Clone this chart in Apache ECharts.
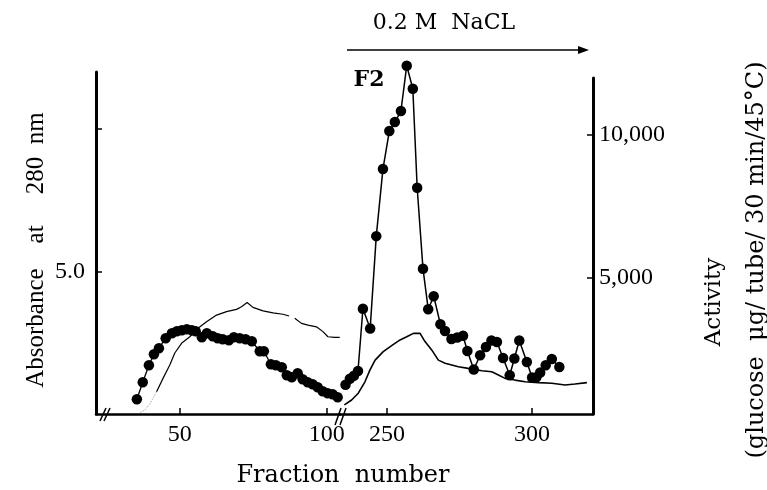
<!DOCTYPE html>
<html>
<head>
<meta charset="utf-8">
<script src="https://cdn.jsdelivr.net/npm/echarts@6/dist/echarts.min.js"></script>
<style>
html,body{margin:0;padding:0;background:#fff;}
#chart{width:767px;height:490px;}
</style>
</head>
<body>
<div id="chart"></div>
<script>
// ---- Data ----
// Left part of the broken x-axis (fractions 21.5 - 104.5)
const actLeftFractions = [35.4,37.4,39.5,41.2,42.9,45.2,47.3,49.0,50.7,52.4,54.1,55.4,57.5,59.2,61.2,62.9,64.6,66.7,68.4,70.4,72.4,74.5,77.2,78.6,81.0,82.7,84.7,86.4,88.1,90.1,91.8,93.5,95.2,96.9,98.6,100.3,102.0,103.7];
const actLeftValues    = [765,1360,1955,2340,2550,2900,3075,3145,3180,3215,3180,3145,2935,3075,2970,2900,2865,2830,2935,2900,2865,2795,2445,2445,1990,1955,1885,1605,1535,1675,1465,1360,1290,1185,1045,975,940,835];

const absLeadFractions = [36.4,38.1,39.8,42.1];
const absLeadValues    = [0.04,0.14,0.35,0.78];

const absLeftFractions = [42.1,44.3,46.6,48.3,50.6,53.4,56.2,59.1,62.5,65.9,69.3,71.0,72.9,74.9,78.3,81.7,85.1,87.2,88.2,89.1,91.4,93.6,96.5,98.7,100.4,102.7,104.4];
const absLeftValues    = [0.78,1.25,1.72,2.14,2.48,2.71,3.01,3.24,3.47,3.59,3.67,3.76,3.91,3.74,3.62,3.55,3.50,3.44,null,3.36,3.18,3.12,3.06,2.89,2.71,2.69,2.69];

// Right part of the broken x-axis (fractions 233.8 - 321)
const actRightFractions = [235.7,237.2,238.6,240.0,241.7,244.2,246.3,248.6,250.8,252.7,254.8,256.8,258.9,260.4,262.4,264.2,266.1,268.4,270.0,272.2,274.2,276.2,277.7,279.9,282.1,284.1,286.0,287.9,290.0,292.3,293.9,295.6,298.2,300.0,301.5,302.8,304.7,306.8,309.4];
const actRightValues    = [1272,1482,1587,1755,3932,3240,6470,8815,10145,10460,10845,12430,11625,8160,5332,3915,4370,3390,3152,2872,2925,2987,2452,1805,2305,2595,2820,2770,2207,1605,2190,2820,2070,1525,1535,1703,1955,2172,1895];

const absRightFractions = [235.3,237.8,240.1,242.4,244.1,245.9,248.7,251.6,254.5,256.8,259.1,261.4,263.1,265.4,267.7,270.0,274.6,278.0,282.7,286.1,288.4,290.7,294.1,297.6,302.2,306.8,311.4,314.8,318.9];
const absRightValues    = [0.32,0.49,0.73,1.13,1.54,1.89,2.19,2.40,2.60,2.71,2.83,2.83,2.54,2.25,1.89,1.78,1.66,1.60,1.52,1.48,1.37,1.25,1.19,1.13,1.10,1.08,1.02,1.05,1.10];

// Tick values / labels
const xTicksLeft  = [50,100];
const xTicksRight = [250,300];
const absTicks    = [5,10];
const absLabels   = [5];
const actTicks    = [5000,10000];

// Texts
const absTitle  = 'Absorbance    at     280  nm';
const actTitle1 = 'Activity';
const actTitle2 = '(glucose  μg/ tube/ 30 min/45°C)';
const xTitle    = 'Fraction  number';
const saltLabel = '0.2 M  NaCL';
const peakLabel = 'F2';

// ---- Build ----
const zip = (a, b) => a.map((v, i) => [v, b[i]]);
const SERIF = '"Liberation Serif", "DejaVu Serif", serif';
const SERIF2 = '"DejaVu Serif", "Liberation Serif", serif';
const black = '#000';

const chart = echarts.init(document.getElementById('chart'), null, {renderer: 'canvas'});

const labelStyle = {color: black, fontFamily: SERIF, fontSize: 24};

chart.setOption({
  animation: false,
  backgroundColor: '#fff',
  grid: [
    {left: 96, top: 72, width: 244, height: 342},
    {left: 340, top: 78, width: 253, height: 336}
  ],
  xAxis: [
    {
      type: 'value', gridIndex: 0, min: 21.5, max: 104.5,
      axisLine: {show: true, lineStyle: {color: black, width: 2.5}},
      axisTick: {show: true, inside: true, length: 6, customValues: xTicksLeft, lineStyle: {color: black, width: 1.5}},
      axisLabel: Object.assign({customValues: xTicksLeft, margin: 9}, labelStyle),
      splitLine: {show: false}
    },
    {
      type: 'value', gridIndex: 1, min: 233.8, max: 321,
      axisLine: {show: true, lineStyle: {color: black, width: 2.5}},
      axisTick: {show: true, inside: true, length: 6, customValues: xTicksRight, lineStyle: {color: black, width: 1.5}},
      axisLabel: Object.assign({customValues: xTicksRight, margin: 9}, labelStyle),
      splitLine: {show: false}
    }
  ],
  yAxis: [
    {
      type: 'value', gridIndex: 0, position: 'left', min: 0, max: 12,
      axisLine: {show: true, lineStyle: {color: black, width: 3}},
      axisTick: {show: true, inside: true, length: 6, customValues: absTicks, lineStyle: {color: black, width: 1.5}},
      axisLabel: Object.assign({customValues: absLabels, margin: 11, formatter: v => Number(v).toFixed(1)}, labelStyle),
      splitLine: {show: false}
    },
    {
      type: 'value', gridIndex: 0, show: false, min: 250, max: 12210,
      splitLine: {show: false}
    },
    {
      type: 'value', gridIndex: 1, show: false, min: 0, max: 11.79,
      splitLine: {show: false}
    },
    {
      type: 'value', gridIndex: 1, position: 'right', min: 250, max: 12000,
      axisLine: {show: true, lineStyle: {color: black, width: 3}},
      axisTick: {show: true, inside: true, length: 6, customValues: actTicks, lineStyle: {color: black, width: 1.5}},
      axisLabel: Object.assign({customValues: actTicks, margin: 6, formatter: v => Number(v).toLocaleString('en-US')}, labelStyle),
      splitLine: {show: false}
    }
  ],
  series: [
    {
      name: 'Activity (left)', type: 'line', xAxisIndex: 0, yAxisIndex: 1,
      data: zip(actLeftFractions, actLeftValues), clip: false,
      symbol: 'circle', symbolSize: 10.5, showAllSymbol: true,
      itemStyle: {color: black}, lineStyle: {color: black, width: 1.3}
    },
    {
      name: 'Absorbance lead', type: 'line', xAxisIndex: 0, yAxisIndex: 0,
      data: zip(absLeadFractions, absLeadValues), symbol: 'none',
      lineStyle: {color: '#999', width: 1, type: 'dotted'}
    },
    {
      name: 'Absorbance (left)', type: 'line', xAxisIndex: 0, yAxisIndex: 0,
      data: zip(absLeftFractions, absLeftValues), symbol: 'none', connectNulls: false,
      lineStyle: {color: black, width: 1.2}
    },
    {
      name: 'Activity (right)', type: 'line', xAxisIndex: 1, yAxisIndex: 3,
      data: zip(actRightFractions, actRightValues), clip: false,
      symbol: 'circle', symbolSize: 10.5, showAllSymbol: true,
      itemStyle: {color: black}, lineStyle: {color: black, width: 1.5}
    },
    {
      name: 'Absorbance (right)', type: 'line', xAxisIndex: 1, yAxisIndex: 2,
      data: zip(absRightFractions, absRightValues), symbol: 'none',
      lineStyle: {color: black, width: 1.6}
    }
  ],
  graphic: [
    {type: 'text', x: 36, y: 250, rotation: Math.PI / 2,
     style: {text: absTitle, fill: black, font: '25px ' + SERIF, align: 'center', verticalAlign: 'middle'}},
    {type: 'text', x: 714, y: 302, rotation: Math.PI / 2,
     style: {text: actTitle1, fill: black, font: '23px ' + SERIF2, align: 'center', verticalAlign: 'middle'}},
    {type: 'text', x: 757, y: 260, rotation: Math.PI / 2,
     style: {text: actTitle2, fill: black, font: '24px ' + SERIF2, align: 'center', verticalAlign: 'middle'}},
    {type: 'text', x: 343, y: 476,
     style: {text: xTitle, fill: black, font: '24px ' + SERIF2, align: 'center', verticalAlign: 'middle'}},
    {type: 'text', x: 444, y: 23,
     style: {text: saltLabel, fill: black, font: '22px ' + SERIF2, align: 'center', verticalAlign: 'middle'}},
    {type: 'text', x: 369, y: 80,
     style: {text: peakLabel, fill: black, font: 'bold 22px ' + SERIF2, align: 'center', verticalAlign: 'middle'}},
    {type: 'line', shape: {x1: 347, y1: 50, x2: 582, y2: 50}, style: {stroke: black, lineWidth: 1.5}},
    {type: 'polygon', shape: {points: [[578, 46], [589, 50], [578, 54]]}, style: {fill: black}},
    // axis break marks
    {type: 'line', shape: {x1: 100, y1: 421, x2: 106, y2: 408}, style: {stroke: black, lineWidth: 1.5}},
    {type: 'line', shape: {x1: 104, y1: 421, x2: 110, y2: 408}, style: {stroke: black, lineWidth: 1.5}},
    {type: 'line', shape: {x1: 335, y1: 425, x2: 341, y2: 408}, style: {stroke: black, lineWidth: 1.5}},
    {type: 'line', shape: {x1: 340, y1: 425, x2: 346, y2: 408}, style: {stroke: black, lineWidth: 1.5}}
  ]
});
</script>
</body>
</html>
